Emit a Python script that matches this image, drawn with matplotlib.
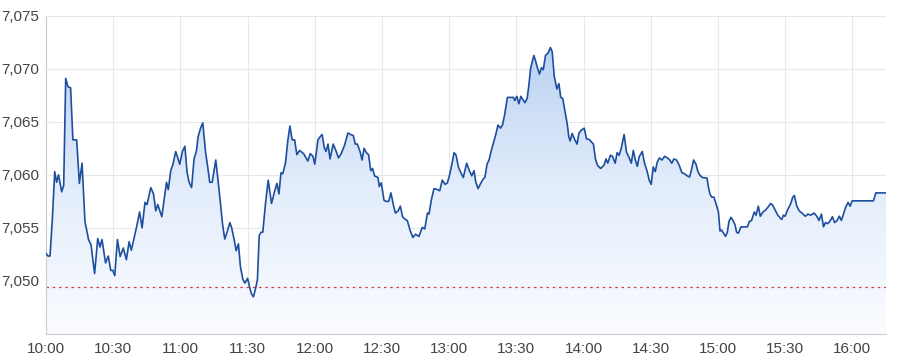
import matplotlib.pyplot as plt
import numpy as np
from matplotlib.colors import LinearSegmentedColormap

# minutes after 10:00 and index level
minutes = [0, 0.9, 1.8, 2.8, 3.9, 4.75, 5.6, 7.0, 7.9, 8.8, 9.8, 11.0, 12.0, 13.7, 14.9, 16.1,
           17.4, 19.0, 20.1, 21.7, 23.1, 24.1, 25.0, 26.6, 27.8, 28.9, 29.8, 30.7, 31.9, 33.1,
           34.5, 35.9, 37.1, 38.1, 40.35, 41.8, 42.9, 44.2, 45.1, 46.8, 48.0, 49.0, 49.9, 51.7,
           53.8, 54.6, 55.7, 56.7, 57.9, 58.7, 59.7, 60.9, 62.0, 63.0, 63.9, 65.0, 66.1, 67.2,
           67.9, 69.0, 70.0, 71.2, 72.2, 73.1, 74.2, 75.8, 76.8, 77.9, 78.8, 79.8, 81.0, 82.1,
           82.9, 84.0, 84.9, 85.9, 86.8, 87.9, 88.8, 90.0, 90.8, 91.7, 92.6, 93.8, 94.4, 95.2,
           96.1, 96.8, 98.0, 99.2, 100.7, 102.0, 103.1, 104.0, 104.9, 105.7, 106.9, 108.0,
           108.9, 109.9, 111.0, 112.0, 113.2, 115.0, 116.9, 118.0, 119.2, 120.0, 121.4, 122.4,
           123.3, 124.2, 125.0, 125.9, 126.8, 128.2, 129.4, 130.6, 131.8, 133.3, 134.8, 136.0,
           137.2, 138.1, 139.0, 140.2, 141.1, 142.0, 143.0, 144.0, 145.0, 145.8, 146.7, 148.2,
           148.8, 149.7, 150.9, 151.8, 153.0, 154.0, 155.1, 156.0, 157.2, 158.2, 159.2, 160.4,
           161.3, 162.5, 163.8, 165.0, 166.5, 168.0, 169.1, 170.3, 171.0, 172.0, 173.2, 174.3,
           175.8, 176.9, 178.2, 179.2, 180.2, 181.3, 182.2, 183.1, 184.1, 185.2, 186.3, 187.8,
           189.0, 190.1, 191.1, 191.9, 192.9, 194.1, 195.0, 196.0, 196.9, 197.8, 198.7, 199.9,
           200.8, 201.8, 202.9, 203.8, 204.7, 206.0, 207.5, 208.7, 209.3, 210.2, 211.1, 212.0,
           212.9, 213.8, 214.8, 215.5, 216.4, 217.8, 218.5, 219.4, 220.3, 221.2, 222.0, 223.0,
           224.2, 225.2, 226.0, 226.9, 228.1, 229.0, 229.8, 230.7, 231.6, 232.7, 233.4, 234.0,
           234.9, 236.1, 237.1, 237.9, 238.9, 240.3, 241.3, 242.4, 244.4, 245.3, 246.2, 247.6,
           249.1, 250.0, 250.8, 252.0, 252.9, 254.1, 255.0, 255.9, 256.8, 258.1, 259.2, 260.2,
           261.3, 262.2, 263.1, 264.0, 264.8, 266.2, 267.2, 268.3, 269.3, 270.2, 271.1, 272.0,
           272.9, 273.9, 275.0, 276.2, 277.4, 278.3, 279.4, 280.3, 281.5, 282.7, 283.9, 285.1,
           286.3, 287.3, 288.1, 289.1, 290.2, 290.9, 291.8, 293.0, 295.1, 295.7, 296.4, 297.2,
           298.2, 299.1, 300.2, 300.9, 301.6, 302.5, 303.4, 304.2, 304.9, 305.8, 306.7, 307.6,
           308.3, 309.1, 310.3, 312.1, 313.1, 314.0, 315.0, 316.2, 317.0, 318.0, 318.9, 320.1,
           321.3, 322.5, 323.5, 324.4, 325.5, 326.7, 327.9, 328.5, 329.2, 330.0, 331.1, 332.5,
           333.4, 334.1, 335.2, 336.3, 337.5, 339.0, 340.2, 341.4, 342.9, 344.1, 345.1, 346.2,
           347.1, 348.0, 348.9, 349.9, 351.1, 352.1, 353.2, 354.2, 355.1, 356.2, 357.1, 358.1,
           359.0, 359.9, 361.1, 369.4, 370.5, 375.0]
prices = [7052.6, 7052.35, 7052.35, 7055.7, 7060.3, 7059.3, 7060.0, 7058.4, 7059.0, 7069.1,
          7068.3, 7068.2, 7063.3, 7063.3, 7059.2, 7061.1, 7055.6, 7053.9, 7053.4, 7050.7,
          7054.0, 7053.2, 7053.9, 7051.7, 7052.35, 7051.0, 7051.0, 7050.5, 7053.9, 7052.3,
          7053.1, 7052.0, 7053.7, 7052.9, 7055.0, 7056.5, 7055.0, 7057.4, 7057.2, 7058.8,
          7058.2, 7056.6, 7057.2, 7056.05, 7059.3, 7058.6, 7060.4, 7061.0, 7062.2, 7061.7,
          7061.0, 7062.2, 7062.7, 7060.2, 7059.3, 7058.8, 7061.5, 7062.3, 7063.6, 7064.4,
          7064.9, 7062.2, 7060.75, 7059.3, 7059.3, 7061.4, 7059.5, 7057.3, 7055.4, 7053.95,
          7054.7, 7055.5, 7055.0, 7053.9, 7052.85, 7053.5, 7051.35, 7050.15, 7049.8, 7050.25,
          7049.5, 7048.8, 7048.5, 7049.5, 7050.15, 7054.3, 7054.6, 7054.6, 7057.3, 7059.5,
          7057.3, 7058.4, 7059.2, 7058.2, 7060.2, 7060.1, 7061.1, 7063.3, 7064.6, 7063.3,
          7063.3, 7061.9, 7062.3, 7062.0, 7061.3, 7062.0, 7061.75, 7061.0, 7063.3, 7063.6,
          7063.8, 7062.6, 7062.2, 7062.9, 7061.5, 7062.9, 7062.3, 7061.6, 7062.0, 7062.8,
          7063.95, 7063.8, 7063.7, 7062.9, 7062.9, 7062.2, 7061.4, 7062.5, 7062.1, 7061.9,
          7060.4, 7060.6, 7059.9, 7059.75, 7058.9, 7059.25, 7057.6, 7057.5, 7057.5, 7058.3,
          7057.15, 7056.4, 7056.6, 7057.05, 7056.05, 7055.8, 7055.7, 7054.8, 7054.1, 7054.4,
          7054.2, 7055.05, 7054.9, 7056.4, 7056.3, 7057.6, 7058.7, 7058.65, 7058.5, 7059.5,
          7059.1, 7059.25, 7060.0, 7061.1, 7062.1, 7061.85, 7060.75, 7060.2, 7059.75, 7061.1,
          7060.4, 7059.9, 7060.4, 7059.3, 7058.7, 7059.2, 7059.55, 7059.8, 7061.0, 7061.4,
          7062.2, 7063.1, 7063.8, 7064.7, 7064.4, 7064.7, 7065.6, 7067.3, 7067.3, 7067.3,
          7067.0, 7067.4, 7066.7, 7067.4, 7067.1, 7066.8, 7067.2, 7068.3, 7070.1, 7071.25,
          7070.8, 7070.1, 7069.5, 7070.1, 7069.9, 7071.25, 7071.5, 7072.0, 7071.6, 7069.3,
          7068.1, 7068.6, 7067.3, 7067.2, 7066.1, 7064.8, 7063.6, 7063.2, 7063.9, 7063.3,
          7062.9, 7063.9, 7064.2, 7064.4, 7063.4, 7063.35, 7062.9, 7061.5, 7060.9, 7060.6,
          7060.9, 7061.5, 7061.1, 7061.85, 7061.75, 7061.1, 7062.1, 7061.85, 7062.5, 7063.8,
          7062.1, 7061.7, 7061.1, 7062.3, 7061.4, 7060.8, 7061.7, 7062.2, 7061.1, 7060.4,
          7059.5, 7059.1, 7060.75, 7060.3, 7061.2, 7061.6, 7061.4, 7061.75, 7061.6, 7061.45,
          7061.1, 7061.5, 7061.4, 7060.9, 7060.2, 7060.1, 7059.9, 7059.8, 7060.4, 7061.4,
          7061.0, 7060.4, 7060.0, 7059.75, 7059.7, 7058.9, 7058.2, 7057.9, 7057.9, 7057.3,
          7056.5, 7054.7, 7054.8, 7054.5, 7054.2, 7054.6, 7055.6, 7056.0, 7055.7, 7055.3,
          7054.6, 7054.5, 7055.1, 7055.1, 7055.1, 7055.6, 7055.7, 7056.5, 7056.2, 7057.05,
          7056.1, 7056.5, 7056.7, 7057.0, 7057.3, 7057.15, 7056.7, 7056.2, 7055.9, 7055.8,
          7056.2, 7056.1, 7056.7, 7057.3, 7057.9, 7058.05, 7057.05, 7056.6, 7056.4, 7056.1,
          7056.3, 7056.2, 7056.4, 7056.1, 7055.7, 7056.3, 7055.1, 7055.5, 7055.4, 7055.6,
          7056.05, 7055.5, 7055.7, 7056.1, 7055.7, 7056.4, 7057.0, 7057.4, 7057.05, 7057.55,
          7057.55, 7057.55, 7058.3, 7058.3]

prev_close = 7049.44
tick_minutes = [0, 30, 60, 90, 120, 150, 180, 210, 240, 270, 300, 330, 360]
tick_labels = ["10:00", "10:30", "11:00", "11:30", "12:00", "12:30", "13:00",
               "13:30", "14:00", "14:30", "15:00", "15:30", "16:00"]
y_ticks = [7050, 7055, 7060, 7065, 7070, 7075]

plt.rcParams['font.family'] = ['Liberation Sans', 'DejaVu Sans']

fig = plt.figure(figsize=(9, 3.6), dpi=100)
ax = fig.add_axes([0.0511, 0.0722, 0.9333, 0.8842])
ymin, ymax = 7045, 7075
xmax = 375

# gradient fill under the line
fill = ax.fill_between(minutes, prices, ymin, color='none', lw=0)
cmap = LinearSegmentedColormap.from_list('g', ['#fbfcff', '#e3edfb', '#b9d1f2'])
grad = np.linspace(0, 1, 256).reshape(-1, 1)
img = ax.imshow(grad, cmap=cmap, aspect='auto', origin='lower',
                extent=[0, xmax, ymin, 7072.5], zorder=1)
img.set_clip_path(fill.get_paths()[0], transform=ax.transData)

ax.plot(minutes, prices, color='#1d4f9e', lw=1.2, zorder=3)
ax.axhline(prev_close, color='#e0392e', lw=0.9, ls=(0, (2, 3)), zorder=2)

ax.set_xlim(0, xmax)
ax.set_ylim(ymin, ymax)
ax.set_xticks(tick_minutes)
ax.set_xticklabels(tick_labels)
ax.set_yticks(y_ticks)
ax.set_yticklabels([f"{v:,}" for v in y_ticks])
ax.grid(True, color='#e8e8e8', lw=0.8, zorder=0)
ax.set_axisbelow(True)
ax.tick_params(length=0, labelsize=11, labelcolor='#444444')
ax.tick_params(axis='y', pad=5)
ax.tick_params(axis='x', pad=6)
for side in ['top', 'right']:
    ax.spines[side].set_visible(False)
for side in ['left', 'bottom']:
    ax.spines[side].set_color('#cccccc')

fig.savefig('out.png', dpi=100)
